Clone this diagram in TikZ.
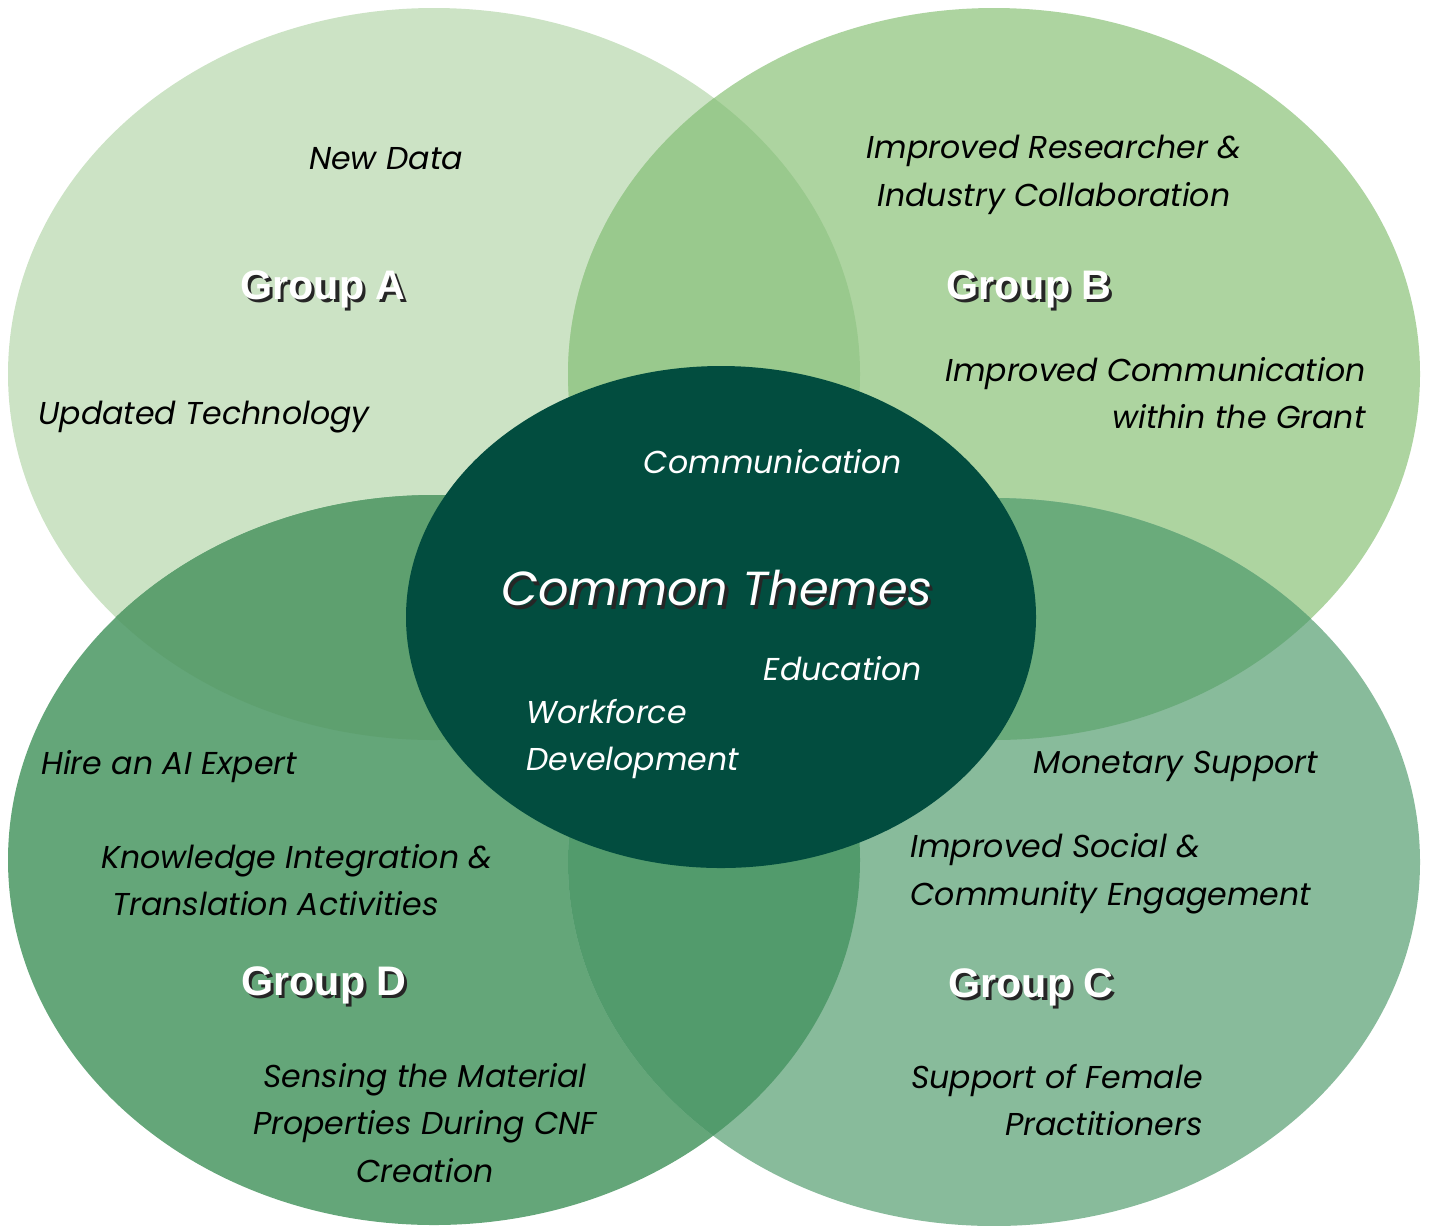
\documentclass[tikz,border=0pt]{standalone}
\usepackage{fontspec}
\setmainfont{Poppins}
\newfontfamily\grpfont{Liberation Sans}

\definecolor{colA}{HTML}{CCE3C5}
\definecolor{colB}{HTML}{ADD4A0}
\definecolor{colC}{HTML}{88BB9B}
\definecolor{colD}{HTML}{64A679}
\definecolor{colAB}{HTML}{99C98D}
\definecolor{colBC}{HTML}{6AAB7B}
\definecolor{colCD}{HTML}{529B6C}
\definecolor{colAD}{HTML}{5EA06F}
\definecolor{colCore}{HTML}{024D3F}

\newcommand\shadowed[1]{\rlap{\color{black!85}\kern1.8pt\raisebox{-1.8pt}{#1}}#1}

\tikzset{
  theme/.style={font=\fontsize{18}{27.2}\selectfont\itshape, text=black, inner sep=0pt},
  coretheme/.style={theme, text=white},
  grouplabel/.style={font=\fontsize{23.5}{27}\selectfont\grpfont\bfseries, text=white, inner sep=0pt},
}

\begin{document}
\begin{tikzpicture}[x=0.02cm, y=-0.02cm]
	\useasboundingbox (0,0) rectangle (1429,1225);
	\def\ellA{(434,374) ellipse [x radius=426, y radius=366]}
	\def\ellB{(994,374) ellipse [x radius=426, y radius=366]}
	\def\ellC{(994,862) ellipse [x radius=426, y radius=364]}
	\def\ellD{(434,860) ellipse [x radius=426, y radius=365]}
	
	%Kreise
	\fill[colA] \ellA;
	\fill[colB] \ellB;
	\fill[colD] \ellD;
	\fill[colC] \ellC;
	\begin{scope}
		\clip \ellA;
		\fill[colAB] \ellB;
		\fill[colAD] \ellD;
	\end{scope}
	\begin{scope}
		\clip \ellC;
		\fill[colBC] \ellB;
		\fill[colCD] \ellD;
	\end{scope}
	\fill[colCore] (721,617) ellipse [x radius=315, y radius=251];
	
	%Gruppe A
	\node[theme] (newdata) at (386,159) {New Data};
	\node[grouplabel] (groupA) at (323,291) {\shadowed{Group A}};
	\node[theme, anchor=west] (updtech) at (38,417) {Updated Technology};
	
	%Gruppe B
	\node[theme, align=center] (collab) at (1054,175) {Improved Researcher \&\\Industry Collaboration};
	\node[grouplabel] (groupB) at (1029,291) {\shadowed{Group B}};
	\node[theme, align=right, anchor=east] (grantcomm) at (1366,393) {Improved Communication\\within the Grant};
	
	%Gruppe C
	\node[theme] (money) at (1176,766) {Monetary Support};
	\node[theme, align=left, anchor=west] (social) at (910,874) {Improved Social \&\\Community Engagement};
	\node[grouplabel] (groupC) at (1031,989) {\shadowed{Group C}};
	\node[theme, align=right, anchor=east] (female) at (1203,1100) {Support of Female\\Practitioners};
	
	%Gruppe D
	\node[theme, anchor=west] (aiexpert) at (41,767) {Hire an AI Expert};
	\node[theme, align=left, anchor=west] (knowledge) at (101,880) {Knowledge Integration \&\\\hspace*{0.35em}Translation Activities};
	\node[grouplabel] (groupD) at (324,987) {\shadowed{Group D}};
	\node[theme, align=center] (sensing) at (425,1123) {Sensing the Material\\Properties During CNF\\Creation};
	
	%Mitte
	\node[coretheme] (communication) at (773,462) {Communication};
	\node[coretheme, font=\fontsize{27.2}{32}\selectfont\itshape] (common) at (717,590) {\shadowed{Common Themes}};
	\node[coretheme] (education) at (843,669) {Education};
	\node[coretheme, align=left, anchor=west] (workforce) at (526,739) {Workforce\\Development};
	
\end{tikzpicture}
\end{document}
